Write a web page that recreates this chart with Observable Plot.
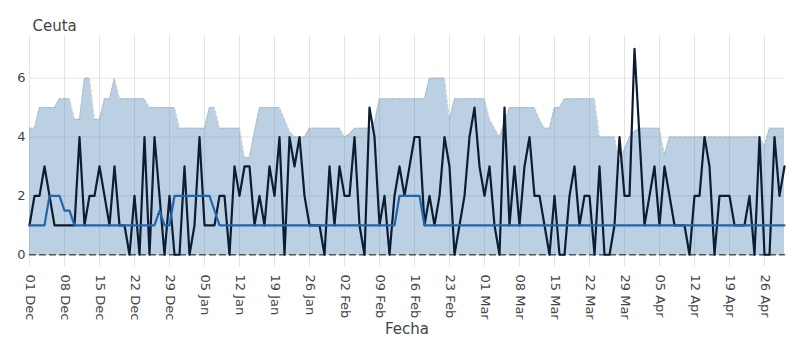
<!DOCTYPE html>
<html><head><meta charset="utf-8">
<script src="https://cdn.jsdelivr.net/npm/d3@7"></script>
<script src="https://cdn.jsdelivr.net/npm/@observablehq/plot@0.6"></script>
<style>body{margin:0;background:#fff;} #chart svg{display:block}</style>
</head><body><div id="chart"></div>
<script>
const titulo = "Ceuta";
const ejeX = "Fecha";
const fechaInicio = "2019-12-01";
const fechaFin = "2020-04-30";
const yTicks = [0, 2, 4, 6];

// daily cases
const casos = [
 1,2,2,3,2,1,1,1,1,1,
 4,1,2,2,3,2,1,3,1,1,
 0,2,0,4,0,4,2,0,2,0,
 0,3,0,1,4,1,1,1,2,2,
 0,3,2,3,3,1,2,1,3,2,
 4,0,4,3,4,2,1,1,1,0,
 3,1,3,2,2,4,1,0,5,4,
 1,2,0,2,3,2,3,4,4,1,
 2,1,2,4,3,0,1,2,4,5,
 3,2,3,1,0,5,1,3,1,3,
 4,2,2,1,0,2,0,0,2,3,
 1,2,2,0,3,0,0,1,4,2,
 2,7,4,1,2,3,1,3,2,1,
 1,1,0,2,2,4,3,0,2,2,
 2,1,1,1,2,0,4,0,0,4,
 2,3
];
// median (blue line)
const mediana = [
 1,1,1,1,2,2,2,1.5,1.5,1,
 1,1,1,1,1,1,1,1,1,1,
 1,1,1,1,1,1,1.5,1,1,2,
 2,2,2,2,2,2,2,1.5,1,1,
 1,1,1,1,1,1,1,1,1,1,
 1,1,1,1,1,1,1,1,1,1,
 1,1,1,1,1,1,1,1,1,1,
 1,1,1,1,2,2,2,2,2,1,
 1,1,1,1,1,1,1,1,1,1,
 1,1,1,1,1,1,1,1,1,1,
 1,1,1,1,1,1,1,1,1,1,
 1,1,1,1,1,1,1,1,1,1,
 1,1,1,1,1,1,1,1,1,1,
 1,1,1,1,1,1,1,1,1,1,
 1,1,1,1,1,1,1,1,1,1,
 1,1
];
// band lower / upper limits
const limiteInferior = new Array(152).fill(0);
const limiteSuperior = [
 4.3,4.3,5.0,5.0,5.0,5.0,5.3,5.3,5.3,4.6,
 4.6,6.0,6.0,4.6,4.6,5.3,5.3,6.0,5.3,5.3,
 5.3,5.3,5.3,5.3,5.0,5.0,5.0,5.0,5.0,5.0,
 4.3,4.3,4.3,4.3,4.3,4.3,5.0,5.0,4.3,4.3,
 4.3,4.3,4.3,3.3,3.3,4.2,5.0,5.0,5.0,5.0,
 5.0,4.6,4.2,4.0,4.0,4.0,4.3,4.3,4.3,4.3,
 4.3,4.3,4.3,4.0,4.1,4.3,4.3,4.3,4.3,4.5,
 5.3,5.3,5.3,5.3,5.3,5.3,5.3,5.3,5.3,5.3,
 6.0,6.0,6.0,6.0,4.6,5.3,5.3,5.3,5.3,5.3,
 5.3,5.3,4.6,4.3,4.0,4.5,5.0,5.0,5.0,5.0,
 5.0,5.0,4.6,4.3,4.3,5.0,5.0,5.3,5.3,5.3,
 5.3,5.3,5.3,5.3,4.0,4.0,4.0,4.0,3.1,3.6,
 4.0,4.2,4.3,4.3,4.3,4.3,4.3,3.4,4.0,4.0,
 4.0,4.0,4.0,4.0,4.0,4.0,4.0,4.0,4.0,4.0,
 4.0,4.0,4.0,4.0,4.0,4.0,4.0,3.7,4.3,4.3,
 4.3,4.3
];

const start = new Date(fechaInicio + "T00:00:00Z");
const end = new Date(fechaFin + "T00:00:00Z");
const rows = casos.map((c, i) => ({
  date: d3.utcDay.offset(start, i),
  casos: c,
  mediana: mediana[i],
  lo: limiteInferior[i],
  hi: limiteSuperior[i]
}));
const tickDates = d3.utcWeek.range(start, d3.utcDay.offset(end, 1));
const fmt = d3.utcFormat("%d %b");

const chart = Plot.plot({
  width: 807, height: 351,
  marginLeft: 29, marginRight: 23, marginTop: 35, marginBottom: 85,
  style: {fontFamily: "DejaVu Sans, sans-serif", fontSize: "13px", color: "#444", background: "#fff", overflow: "visible"},
  x: {type: "utc", domain: [start, end], axis: null},
  y: {domain: [-0.4, 7.45]},
  marks: [
    Plot.gridX(tickDates, {stroke: "#e4e4e4", strokeOpacity: 1}),
    Plot.gridY(yTicks, {stroke: "#e4e4e4", strokeOpacity: 1}),
    Plot.areaY(rows, {x: "date", y1: "lo", y2: "hi", fill: "rgb(70,130,180)", fillOpacity: 0.37}),
    Plot.lineY(rows, {x: "date", y: "hi", stroke: "#9a9a9a", strokeOpacity: 0.6, strokeWidth: 0.8, strokeDasharray: "3,2"}),
    Plot.lineY(rows, {x: "date", y: "lo", stroke: "#555", strokeWidth: 1.5, strokeDasharray: "6,4"}),
    Plot.lineY(rows, {x: "date", y: "casos", stroke: "#0b1c33", strokeWidth: 2.2}),
    Plot.lineY(rows, {x: "date", y: "mediana", stroke: "#2166ac", strokeWidth: 2.2}),
    Plot.axisY({ticks: yTicks, tickSize: 0, tickPadding: 4, label: null, fontSize: 13}),
    Plot.text(tickDates, {x: d => d, frameAnchor: "bottom", dx: -4, dy: 8, rotate: 90, textAnchor: "start", text: d => fmt(d), fontSize: 13, fill: "#444"}),
    Plot.text([titulo], {frameAnchor: "top-left", dx: 3, dy: -15, text: d => d, textAnchor: "start", fontSize: 15, fill: "#444"}),
    Plot.text([ejeX], {frameAnchor: "bottom", dy: 67, text: d => d, fontSize: 15, fill: "#444"})
  ]
});
document.getElementById("chart").append(chart);
</script>
</body></html>
